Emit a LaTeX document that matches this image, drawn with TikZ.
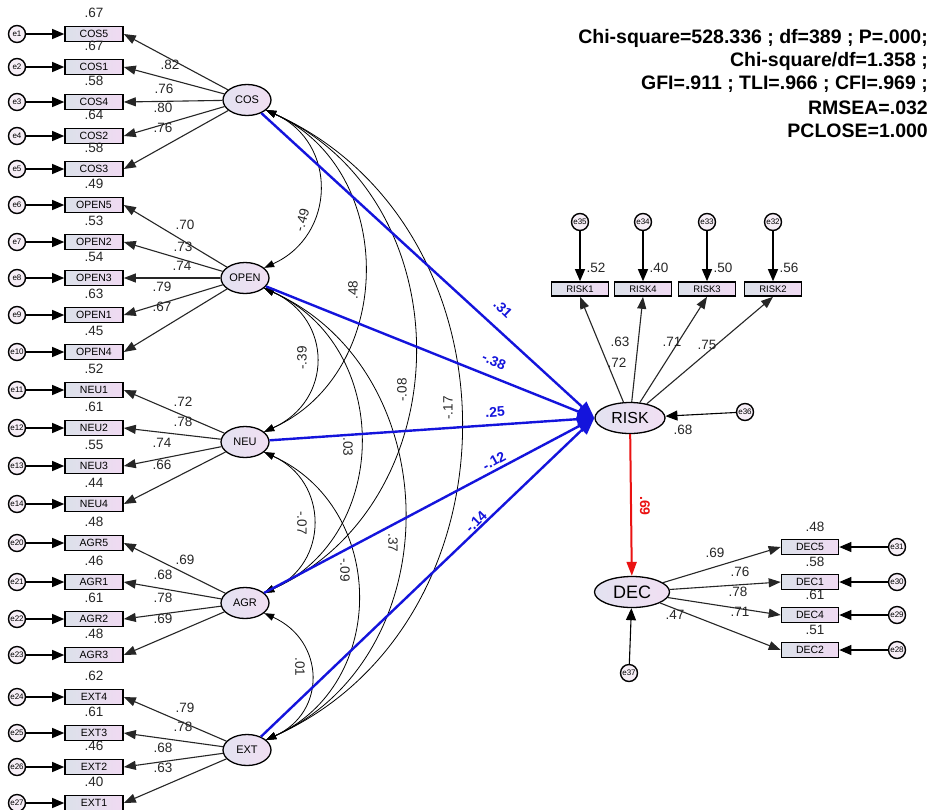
\documentclass[tikz,border=0pt]{standalone}
\usepackage{fontspec}
\setmainfont{Liberation Sans}
\usetikzlibrary{arrows.meta,shapes.geometric,calc}
\definecolor{boxL}{HTML}{DCE1EA}
\definecolor{boxR}{HTML}{F0DAF2}
\definecolor{ellL}{HTML}{E3E2F1}
\definecolor{ellR}{HTML}{F1DFF2}
\definecolor{errF}{HTML}{F6EEF6}
\definecolor{pathblue}{HTML}{1414DC}
\definecolor{pathred}{HTML}{EA1212}
\begin{document}
\begin{tikzpicture}[x=1pt,y=-1pt,
  obs/.style={draw, line width=1.6pt, minimum width=58pt, minimum height=15pt, inner sep=0pt,
    left color=boxL, right color=boxR, font=\fontsize{10.5}{10.5}\selectfont},
  riskobs/.style={obs, minimum width=57pt, minimum height=14pt, font=\fontsize{9.5}{9.5}\selectfont},
  lat/.style={ellipse, draw, line width=1.3pt, inner sep=0pt, left color=ellL, right color=ellR},
  latsm/.style={lat, minimum width=48pt, minimum height=31pt, font=\fontsize{11}{11}\selectfont},
  errc/.style={circle, draw, line width=1.4pt, minimum size=17pt, inner sep=0pt, fill=errF,
    font=\fontsize{8}{8}\selectfont},
  numlbl/.style={font=\fontsize{13.5}{13.5}\selectfont, inner sep=0pt, text=black!85},
  errarrow/.style={-{Triangle[length=12pt,width=10pt]}, line width=1.1pt},
  ldline/.style={-{Triangle[length=12pt,width=9pt]}, line width=1.1pt, draw=black!85},
  covline/.style={{Triangle[length=10pt,width=7pt]}-{Triangle[length=10pt,width=7pt]}, line width=0.8pt},
  bluepath/.style={-{Triangle[length=17pt,width=13pt]}, line width=2.4pt, draw=pathblue, fill=pathblue},
  bluelbl/.style={font=\bfseries\fontsize{14}{14}\selectfont, text=pathblue, inner sep=0pt},
  redpath/.style={-{Triangle[length=14pt,width=10pt]}, line width=2pt, draw=pathred, fill=pathred},
  redlbl/.style={font=\bfseries\fontsize{14}{14}\selectfont, text=pathred, inner sep=0pt},
  fitlbl/.style={font=\bfseries\fontsize{19.5}{19.5}\selectfont, anchor=east, inner sep=0pt}
]
\fill[white] (0,0) rectangle (933,809);
\useasboundingbox (0,0) rectangle (933,809);

% latent factors
\node[latsm] (fCOS) at (247,100) {COS};
\node[latsm] (fOPEN) at (245,278) {OPEN};
\node[latsm] (fNEU) at (245,442) {NEU};
\node[latsm] (fAGR) at (245,603) {AGR};
\node[latsm] (fEXT) at (247,750) {EXT};
\node[lat, minimum width=70pt, minimum height=31pt, font=\fontsize{16}{16}\selectfont] (fRISK) at (630,418) {RISK};
\node[lat, minimum width=75pt, minimum height=31pt, font=\fontsize{18}{18}\selectfont] (fDEC) at (632,592) {DEC};

% left indicators
\foreach \n/\y/\r/\e in {COS5/34/.67/e1, COS1/67/.67/e2, COS4/102/.58/e3, COS2/136/.64/e4, COS3/169/.58/e5,
  OPEN5/205/.49/e6, OPEN2/242/.53/e7, OPEN3/278/.54/e8, OPEN1/315/.63/e9, OPEN4/352/.45/e10,
  NEU1/390/.52/e11, NEU2/428/.61/e12, NEU3/466/.55/e13, NEU4/504/.44/e14,
  AGR5/543/.48/e20, AGR1/582/.46/e21, AGR2/619/.61/e22, AGR3/655/.48/e23,
  EXT4/697/.62/e24, EXT3/733/.61/e25, EXT2/767/.46/e26, EXT1/803/.40/e27} {
  \node[obs] (\n) at (94,\y) {\n};
  \node[errc] (\e) at (17,\y) {\e};
  \draw[errarrow] (\e) -- (\n);
  \node[numlbl] (r\n) at (94,\y-21) {\r};
}

% loadings left
\foreach \f/\b in {fCOS/COS5, fCOS/COS1, fCOS/COS4, fCOS/COS2, fCOS/COS3,
  fOPEN/OPEN5, fOPEN/OPEN2, fOPEN/OPEN3, fOPEN/OPEN1, fOPEN/OPEN4,
  fNEU/NEU1, fNEU/NEU2, fNEU/NEU3, fNEU/NEU4,
  fAGR/AGR5, fAGR/AGR1, fAGR/AGR2, fAGR/AGR3,
  fEXT/EXT4, fEXT/EXT3, fEXT/EXT2, fEXT/EXT1}
  \draw[ldline] (\f) -- (\b.east);

\foreach \i/\x/\y/\t in {1/170/65/.82, 2/164/89/.76, 3/163/108/.80, 4/163/128/.76,
  5/185/225/.70, 6/183/247/.73, 7/182/266/.74, 8/162/287/.79, 9/162/307/.67,
  10/183/402/.72, 11/183/422/.78, 12/162/443/.74, 13/162/465/.66,
  14/185/560/.69, 15/163/575/.68, 16/163/598/.78, 17/163/619/.69,
  18/185/708/.79, 19/183/727/.78, 20/163/748/.68, 21/163/768/.63}
  \node[numlbl] (ll\i) at (\x,\y) {\t};

% covariances
\foreach \a/\b/\c in {fCOS/fOPEN/72, fCOS/fNEU/132, fCOS/fAGR/199, fCOS/fEXT/259,
  fOPEN/fNEU/69, fOPEN/fAGR/128, fOPEN/fEXT/185,
  fNEU/fAGR/65, fNEU/fEXT/123, fAGR/fEXT/61}
  \draw[covline] (\a.-28) .. controls ($(\a.-28)+(\c,0.45*\c)$) and ($(\b.28)+(\c,-0.45*\c)$) .. (\b.28);

\foreach \i/\x/\y/\r/\t in {1/302/220/75/-.49, 2/353/290/90/.48, 3/302/358/90/-.39,
  4/402/390/90/-.08, 5/448/408/90/-.17, 6/348/447/-90/.03, 7/302/523/-90/-.07,
  8/393/543/-90/.37, 9/345/570/-90/-.09, 10/300/667/-90/.01}
  \node[numlbl, rotate=\r] (cl\i) at (\x,\y) {\t};

% structural paths
\draw[bluepath] (fCOS) -- (fRISK.west);
\draw[bluepath] (fOPEN) -- (fRISK.west);
\draw[bluepath] (fNEU) -- (fRISK.west);
\draw[bluepath] (fAGR) -- (fRISK.west);
\draw[bluepath] (fEXT) -- (fRISK.west);
\node[bluelbl, rotate=-44] (b1) at (503,309) {.31};
\node[bluelbl, rotate=-23] (b2) at (494,361) {-.38};
\node[bluelbl, rotate=4] (b3) at (495,412) {.25};
\node[bluelbl, rotate=29] (b4) at (494,461) {-.12};
\node[bluelbl, rotate=45] (b5) at (476,522) {-.14};

% RISK indicators
\foreach \n/\x/\e/\r in {RISK1/580/e35/.52, RISK4/643/e34/.40, RISK3/707/e33/.50, RISK2/773/e32/.56} {
  \node[riskobs] (\n) at (\x,289) {\n};
  \node[errc] (\e) at (\x,222) {\e};
  \draw[errarrow] (\e) -- (\n);
  \node[numlbl] (r\n) at (\x+16,268) {\r};
  \draw[ldline] (fRISK) -- (\n.south);
}
\foreach \i/\x/\y/\t in {1/617/363/.72, 2/620/342/.63, 3/672/342/.71, 4/707/345/.75}
  \node[numlbl] (rl\i) at (\x,\y) {\t};
\node[errc] (e36) at (745,412) {e36};
\draw[errarrow] (e36) -- (fRISK);
\node[numlbl] (rR) at (683,430) {.68};

% RISK -> DEC
\draw[redpath] (fRISK) -- (fDEC);
\node[redlbl, rotate=-90] (rd) at (645,506) {.69};

% DEC indicators
\foreach \n/\y/\e/\r in {DEC5/547/e31/.48, DEC1/582/e30/.58, DEC4/615/e29/.61, DEC2/650/e28/.51} {
  \node[obs, minimum width=57pt] (\n) at (810,\y) {\n};
  \node[errc] (\e) at (897,\y) {\e};
  \draw[errarrow] (\e) -- (\n);
  \node[numlbl] (r\n) at (815,\y-20) {\r};
  \draw[ldline] (fDEC) -- (\n.west);
}
\foreach \i/\x/\y/\t in {1/715/553/.69, 2/740/572/.76, 3/738/592/.78, 4/740/612/.71}
  \node[numlbl] (dl\i) at (\x,\y) {\t};
\node[numlbl] (rD) at (675,615) {.47};
\node[errc] (e37) at (629,673) {e37};
\draw[errarrow] (e37) -- (fDEC);

% fit indices
\node[fitlbl] (fit1) at (928,38) {Chi-square=528.336 ; df=389 ; P=.000;};
\node[fitlbl] (fit2) at (928,61) {Chi-square/df=1.358 ;};
\node[fitlbl] (fit3) at (928,84) {GFI=.911 ; TLI=.966 ; CFI=.969 ;};
\node[fitlbl] (fit4) at (928,108) {RMSEA=.032};
\node[fitlbl] (fit5) at (928,131) {PCLOSE=1.000};
\end{tikzpicture}
\end{document}
